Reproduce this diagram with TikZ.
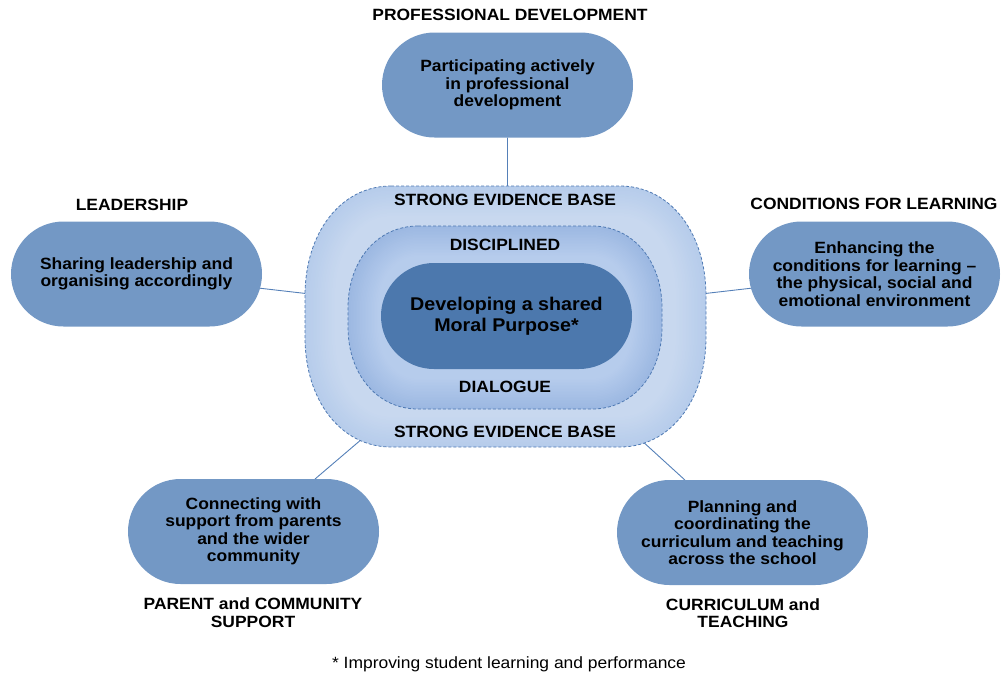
\documentclass[tikz,border=0pt]{standalone}
\usepackage{fontspec}
\setmainfont{Liberation Sans}[FakeStretch=1.07]
\usetikzlibrary{shapes.misc,calc}
\pgfdeclarelayer{background}
\pgfsetlayers{background,main}
\definecolor{pillblue}{HTML}{7398C5}
\definecolor{coreblue}{HTML}{4C78AD}
\definecolor{ringedge}{HTML}{B6CCEB}
\definecolor{ringin}{HTML}{C8D8EF}
\definecolor{midedge}{HTML}{9CB8E2}
\definecolor{midin}{HTML}{B6CCEC}
\definecolor{edgeline}{HTML}{4E79B3}
\definecolor{linkline}{HTML}{5580B8}

% rectangle with elliptical corners: centre x, centre y, half width, half height, corner rx, corner ry
\newcommand\ovalbox[6]{%
  (#1-#3+#5,#2-#4) -- (#1+#3-#5,#2-#4)
  .. controls (#1+#3-0.42*#5,#2-#4) and (#1+#3,#2-#4+0.42*#6) .. (#1+#3,#2-#4+#6)
  -- (#1+#3,#2+#4-#6)
  .. controls (#1+#3,#2+#4-0.42*#6) and (#1+#3-0.42*#5,#2+#4) .. (#1+#3-#5,#2+#4)
  -- (#1-#3+#5,#2+#4)
  .. controls (#1-#3+0.42*#5,#2+#4) and (#1-#3,#2+#4-0.42*#6) .. (#1-#3,#2+#4-#6)
  -- (#1-#3,#2-#4+#6)
  .. controls (#1-#3,#2-#4+0.42*#6) and (#1-#3+0.42*#5,#2-#4) .. (#1-#3+#5,#2-#4) -- cycle}

\begin{document}
\begin{tikzpicture}[x=1pt,y=-1pt,
  pill/.style={rounded rectangle, fill=pillblue, minimum width=251pt, minimum height=105pt,
    inner sep=0pt, outer sep=0pt, align=center, font=\bfseries\fontsize{16.3}{17.5}\selectfont},
  heading/.style={align=center, inner sep=0pt, font=\bfseries\fontsize{16.3}{17.5}\selectfont},
  link/.style={draw=linkline, line width=0.9pt},
  rim/.style={draw=edgeline, line width=0.8pt, dash pattern=on 3pt off 2pt}
]
\useasboundingbox (0,0) rectangle (1001,675);

% outer ring: strong evidence base
\node[rectangle, outer sep=0pt, inner sep=0pt,
  minimum width=401pt, minimum height=261pt] (ev) at (505.5,316.5) {};
\fill[ringedge] \ovalbox{505.5}{316.5}{200.5}{130.5}{86}{110};
\foreach \i in {1,...,20} {
  \pgfmathsetmacro\hw{200.5-\i*1.5}
  \pgfmathsetmacro\hh{130.5-\i*1.5}
  \pgfmathsetmacro\rx{86-\i*1.5}
  \pgfmathsetmacro\ry{110-\i*1.5}
  \pgfmathtruncatemacro\p{100-\i*5}
  \fill[ringedge!\p!ringin] \ovalbox{505.5}{316.5}{\hw}{\hh}{\rx}{\ry};
}
\draw[rim] \ovalbox{505.5}{316.5}{200.5}{130.5}{86}{110};

% middle ring: disciplined dialogue
\node[rectangle, outer sep=0pt, inner sep=0pt,
  minimum width=314pt, minimum height=183pt] (mid) at (505,317.5) {};
\fill[midedge] \ovalbox{505}{317.5}{157}{91.5}{70}{82};
\foreach \i in {1,...,20} {
  \pgfmathsetmacro\hw{157-\i*1.5}
  \pgfmathsetmacro\hh{91.5-\i*1.5}
  \pgfmathsetmacro\rx{70-\i*1.5}
  \pgfmathsetmacro\ry{82-\i*1.5}
  \pgfmathtruncatemacro\p{100-\i*5}
  \fill[midedge!\p!midin] \ovalbox{505}{317.5}{\hw}{\hh}{\rx}{\ry};
}
\draw[rim] \ovalbox{505}{317.5}{157}{91.5}{70}{82};

% core
\node[rounded rectangle, fill=coreblue, minimum width=251pt, minimum height=106pt,
  inner sep=0pt, outer sep=0pt, align=center,
  font=\bfseries\fontsize{18.4}{21}\selectfont] (core) at (506.5,316)
  {Developing a shared\\Moral Purpose*};

% ring captions
\node[heading] (evtop) at (505,200) {STRONG EVIDENCE BASE};
\node[heading] (evbot) at (505,432) {STRONG EVIDENCE BASE};
\node[heading] (disc) at (505,245) {DISCIPLINED};
\node[heading] (dial) at (505,387) {DIALOGUE};

% surrounding practices
\node[pill] (pd) at (507.5,85) {Participating actively\\in professional\\development};
\node[pill] (lead) at (136.5,274) {Sharing leadership and\\organising accordingly};
\node[pill] (cond) at (874.5,274) {Enhancing the\\conditions for learning --\\the physical, social and\\emotional environment};
\node[pill] (par) at (253.5,531.5) {Connecting with\\support from parents\\and the wider\\community};
\node[pill] (curr) at (742.5,532.5) {Planning and\\coordinating the\\curriculum and teaching\\across the school};

% practice headings
\node[heading] (pdlab) at (510,15) {PROFESSIONAL DEVELOPMENT};
\node[heading] (leadlab) at (132,205) {LEADERSHIP};
\node[heading] (condlab) at (874,204) {CONDITIONS FOR LEARNING};
\node[heading] (parlab) at (253,612.5) {PARENT and COMMUNITY\\SUPPORT};
\node[heading] (currlab) at (743,613) {CURRICULUM and\\TEACHING};

% footnote
\node[inner sep=0pt, font=\fontsize{16.3}{17.5}\selectfont] (note) at (509,664)
  {* Improving student learning and performance};

% connectors, kept behind the rings
\begin{pgfonlayer}{background}
  \draw[link] (pd) -- (pd |- ev.center);
  \draw[link] (lead) -- (ev.center);
  \draw[link] (cond) -- (ev.center);
  \draw[link] (par) -- (ev.center);
  \draw[link] (curr) -- (ev.center);
\end{pgfonlayer}
\end{tikzpicture}
\end{document}
